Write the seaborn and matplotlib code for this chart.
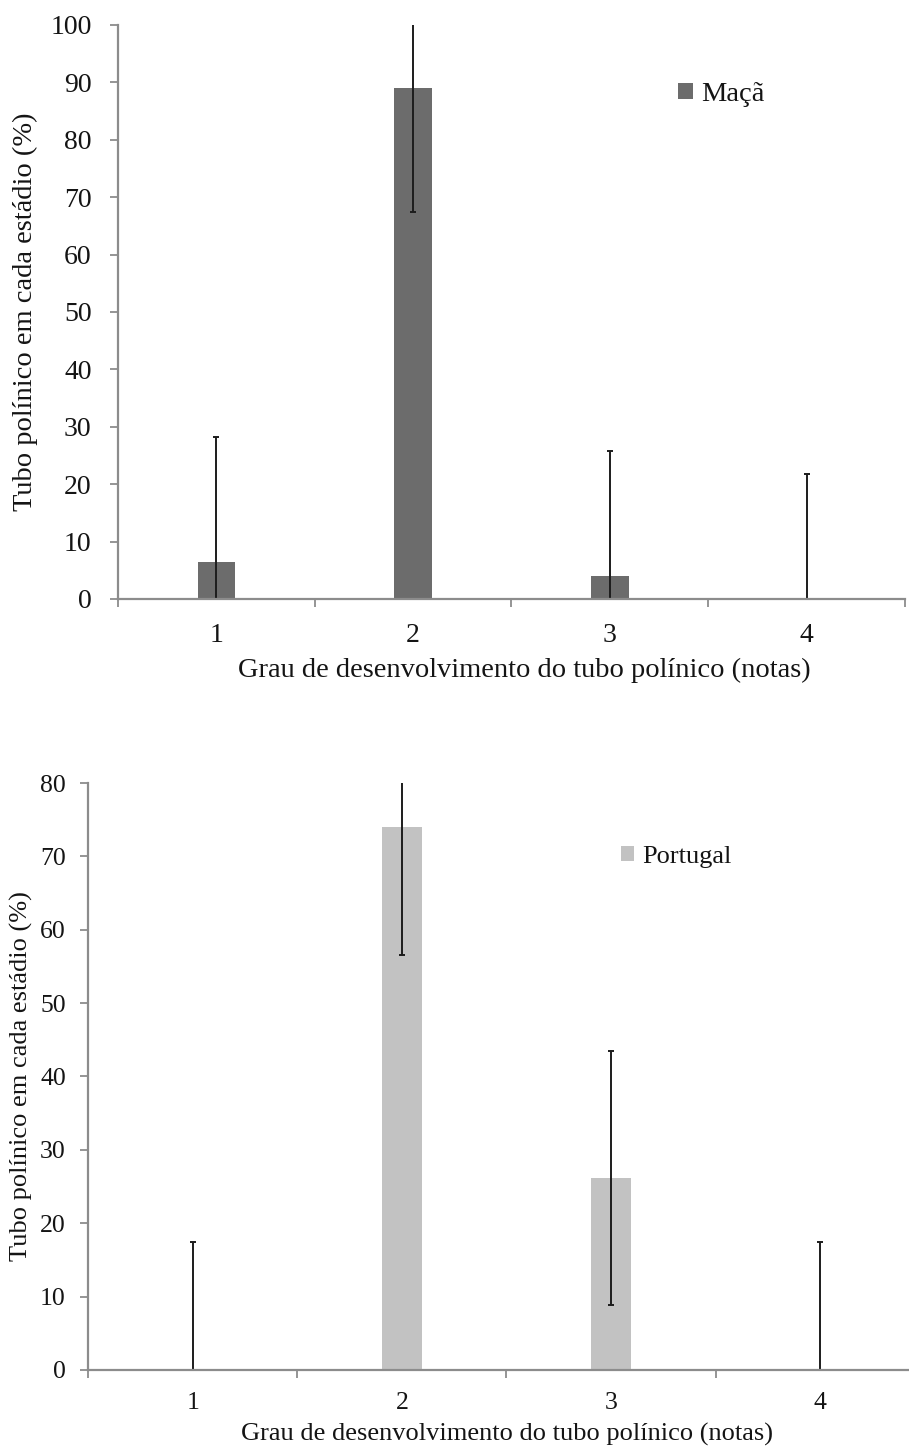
import matplotlib
matplotlib.use("Agg")
import matplotlib.pyplot as plt
from matplotlib.ticker import FixedLocator, MultipleLocator
import seaborn as sns
import pandas as pd

# data
notas = ["1", "2", "3", "4"]
maca_pct = [6.5, 89.0, 4.0, 0.0]
maca_err = [21.7, 21.5, 21.7, 21.7]
portugal_pct = [0.0, 74.0, 26.2, 0.0]
portugal_err = [17.5, 17.5, 17.3, 17.5]

ylabel = "Tubo polínico em cada estádio (%)"
xlabel = "Grau de desenvolvimento do tubo polínico (notas)"

sns.set_theme(style="white")
plt.rcParams["font.family"] = ["Liberation Serif", "DejaVu Serif"]

axis_grey = "#8c8c8c"
text_col = "#141414"

fig = plt.figure(figsize=(9.09, 14.5), dpi=100)
ax_top = fig.add_axes([0.1298, 0.5869, 0.8658, 0.3959])
ax_bot = fig.add_axes([0.0968, 0.0552, 0.9208, 0.4048])


def draw_panel(ax, values, errors, color, name, ymax, tick_fs, lab_fs,
               ypad, xpad, leg_xy, xlab_xy, ylab_x):
    df = pd.DataFrame({"nota": notas, "pct": values})
    sns.barplot(data=df, x="nota", y="pct", color=color, width=0.19,
                linewidth=0, saturation=1, label=name, ax=ax)
    ax.errorbar(range(len(notas)), values, yerr=errors, fmt="none",
                ecolor="#1c1c1c", elinewidth=1.4, capsize=2.5, capthick=1.4)

    ax.set_xlim(-0.5, 3.5)
    ax.set_ylim(0, ymax)
    ax.yaxis.set_major_locator(MultipleLocator(10))
    ax.xaxis.set_minor_locator(FixedLocator([-0.5, 0.5, 1.5, 2.5, 3.5]))

    sns.despine(ax=ax)
    for side in ["left", "bottom"]:
        ax.spines[side].set_color(axis_grey)
        ax.spines[side].set_linewidth(1.6)

    ax.tick_params(axis="x", which="major", length=0, pad=xpad,
                   labelsize=tick_fs, labelcolor=text_col)
    ax.tick_params(axis="x", which="minor", bottom=True, length=6,
                   width=1.3, color=axis_grey)
    ax.tick_params(axis="y", left=True, length=6, width=1.3,
                   color=axis_grey, pad=ypad, labelsize=tick_fs,
                   labelcolor=text_col)

    ax.set_xlabel(xlabel, fontsize=lab_fs, color=text_col)
    ax.xaxis.label.set_va("center")
    ax.xaxis.set_label_coords(*xlab_xy)
    ax.set_ylabel(ylabel, fontsize=lab_fs, color=text_col)
    ax.yaxis.label.set_va("center")
    ax.yaxis.set_label_coords(ylab_x, 0.5)

    leg = ax.legend(loc="center left", bbox_to_anchor=leg_xy, frameon=False,
                    fontsize=lab_fs, handlelength=0.5, handleheight=0.5,
                    handletextpad=0.3, borderpad=0, borderaxespad=0)
    for t in leg.get_texts():
        t.set_color(text_col)


draw_panel(ax_top, maca_pct, maca_err, "#6c6c6c", "Maçã", 100, 20, 20.5,
           ypad=13, xpad=17, leg_xy=(0.712, 0.878),
           xlab_xy=(0.516, -0.124), ylab_x=-0.118)
draw_panel(ax_bot, portugal_pct, portugal_err, "#c2c2c2", "Portugal", 80,
           18.5, 19, ypad=10, xpad=16, leg_xy=(0.637, 0.874),
           xlab_xy=(0.5006, -0.110), ylab_x=-0.080)

fig.savefig("out.png", dpi=100)
